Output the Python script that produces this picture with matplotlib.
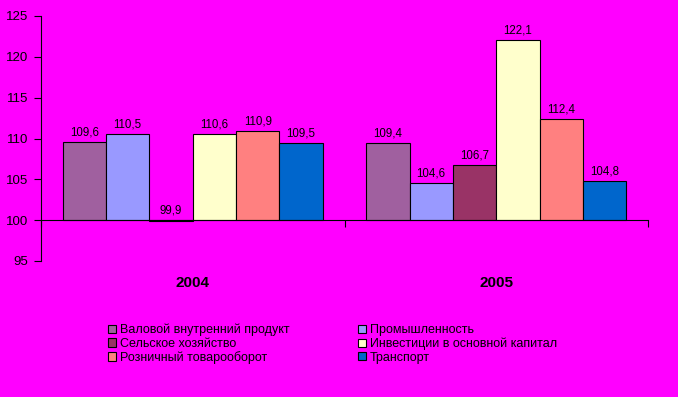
import matplotlib
matplotlib.use("Agg")
import matplotlib.pyplot as plt
import numpy as np

plt.rcParams['font.family'] = ['Liberation Sans', 'DejaVu Sans']

years = ["2004", "2005"]
series = ["Валовой внутренний продукт", "Промышленность", "Сельское хозяйство",
          "Инвестиции в основной капитал", "Розничный товарооборот", "Транспорт"]
values = [
    [109.6, 109.4],
    [110.5, 104.6],
    [99.9, 106.7],
    [110.6, 122.1],
    [110.9, 112.4],
    [109.5, 104.8],
]
colors = ["#A0609F", "#9999FF", "#993366", "#FFFFCC", "#FF8080", "#0066CC"]
yticks = [95, 100, 105, 110, 115, 120, 125]
base = 100

bg = "#FF00FF"
fig = plt.figure(figsize=(6.78, 3.97), dpi=100, facecolor=bg)
ax = fig.add_axes([41/678, 1-261/397, (648-41)/678, (261-16)/397])
ax.set_facecolor(bg)

n = len(series)
gap = 1.0
w = 1.0 / (n + gap)
x = np.arange(len(years))
handles = []
for i, (name, vals, c) in enumerate(zip(series, values, colors)):
    pos = x - 0.5 + w * (gap / 2 + i + 0.5)
    heights = [v - base for v in vals]
    b = ax.bar(pos, heights, width=w, bottom=base, color=c, edgecolor="black",
               linewidth=0.8, label=name)
    handles.append(b)
    for p, v in zip(pos, vals):
        ax.annotate(f"{v:.1f}".replace(".", ","), (p, max(v, base)),
                    xytext=(0, 2.5), textcoords="offset points",
                    ha="center", va="bottom", fontsize=8.3, color="black")

ax.set_xlim(-0.5, len(years) - 0.5)
ax.set_ylim(95, 125)
ax.set_yticks(yticks)
ax.set_yticklabels([str(t) for t in yticks], fontsize=9.5)
ax.spines['top'].set_visible(False)
ax.spines['right'].set_visible(False)
ax.spines['bottom'].set_position(('data', base))
ax.spines['left'].set_linewidth(0.8)
ax.spines['bottom'].set_linewidth(0.8)
ax.set_xticks(np.arange(len(years) + 1) - 0.5)
ax.set_xticklabels([])
ax.tick_params(axis='x', direction='out', length=5, width=0.8)
ax.tick_params(axis='y', direction='out', length=5, width=0.8, pad=4)

for xi, yr in zip(x, years):
    ax.text(xi, 92.3, yr, ha="center", va="center", fontsize=11,
            fontweight="bold", color="black")

order = [0, 2, 4, 1, 3, 5]
leg = fig.legend([handles[i] for i in order], [series[i] for i in order],
                 ncol=2, loc="upper left",
                 bbox_to_anchor=(108/678, 1-324/397), frameon=False,
                 fontsize=9, handlelength=0.65, handleheight=0.65,
                 handletextpad=0.35, columnspacing=5.4, labelspacing=0.1,
                 borderpad=0, borderaxespad=0)

fig.savefig("out.png", dpi=100, facecolor=bg)
